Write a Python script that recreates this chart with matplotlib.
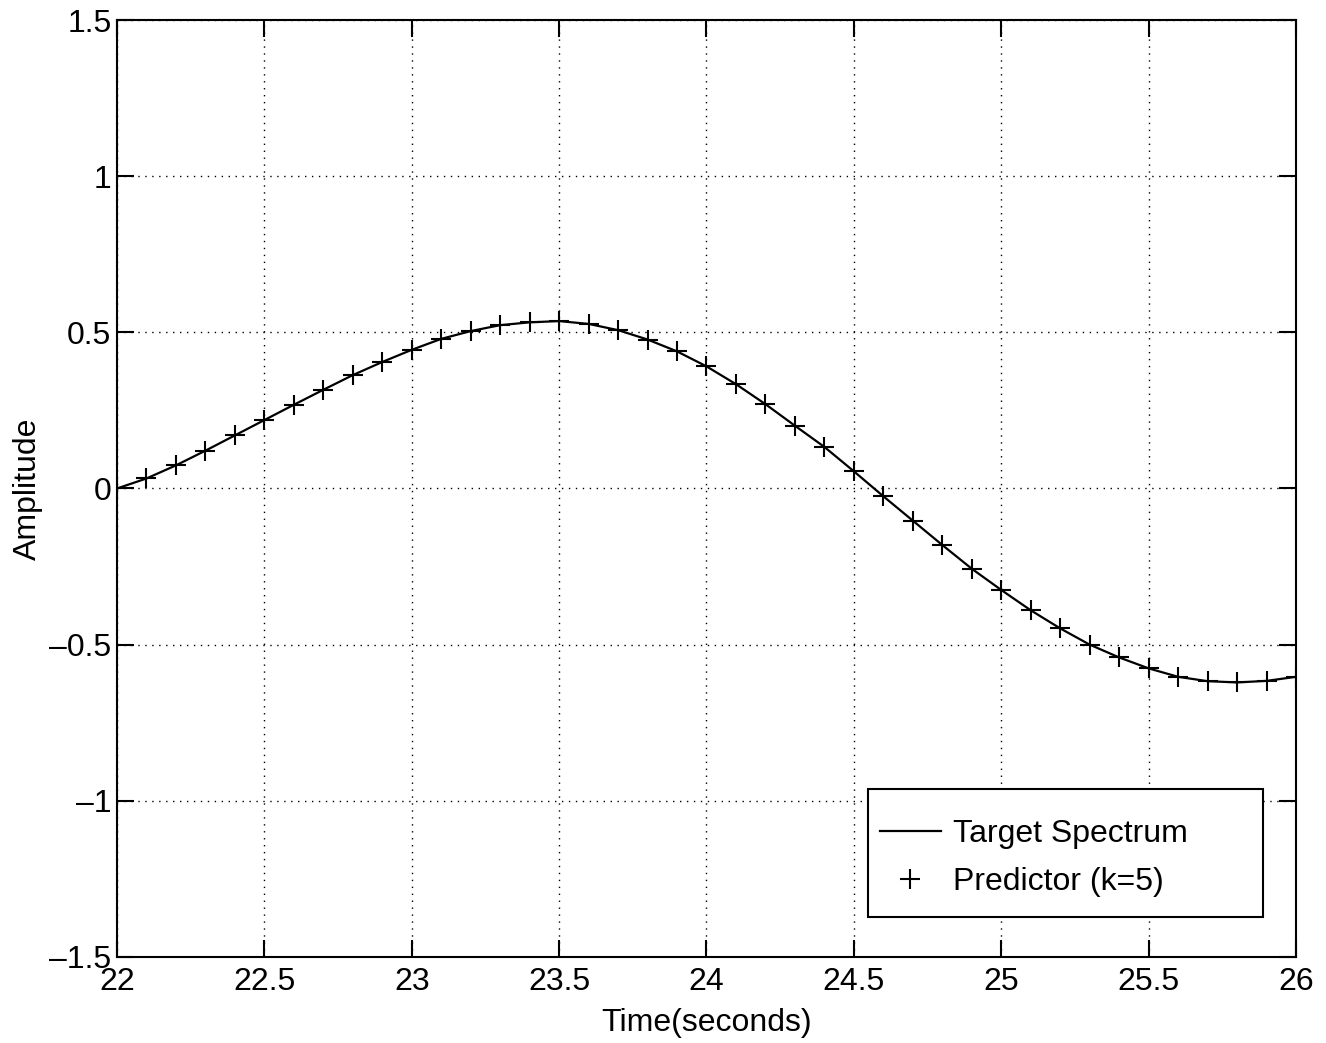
import matplotlib.pyplot as plt
from matplotlib.patches import Rectangle

plt.rcParams['font.family'] = ['Liberation Sans', 'DejaVu Sans']

# time (seconds) and amplitude
t = [22.0, 22.1, 22.2, 22.3, 22.4, 22.5, 22.6, 22.7, 22.8, 22.9,
     23.0, 23.1, 23.2, 23.3, 23.4, 23.5, 23.6, 23.7, 23.8, 23.9,
     24.0, 24.1, 24.2, 24.3, 24.4, 24.5, 24.6, 24.7, 24.8, 24.9,
     25.0, 25.1, 25.2, 25.3, 25.4, 25.5, 25.6, 25.7, 25.8, 25.9, 26.0]
target = [0.0, 0.032, 0.074, 0.121, 0.170, 0.219, 0.268, 0.316, 0.363, 0.405,
          0.444, 0.479, 0.504, 0.523, 0.532, 0.536, 0.527, 0.507, 0.477, 0.439,
          0.391, 0.334, 0.270, 0.201, 0.133, 0.055, -0.025, -0.103, -0.181, -0.257,
          -0.325, -0.390, -0.448, -0.500, -0.541, -0.576, -0.603, -0.617, -0.621, -0.616, -0.603]
predictor = target[:]

xticks = [22, 22.5, 23, 23.5, 24, 24.5, 25, 25.5, 26]
xlabels = ['22', '22.5', '23', '23.5', '24', '24.5', '25', '25.5', '26']
yticks = [-1.5, -1, -0.5, 0, 0.5, 1, 1.5]
ylabels = ['\u20131.5', '\u20131', '\u20130.5', '0', '0.5', '1', '1.5']

fs = 23

fig = plt.figure(figsize=(13.26, 10.43), dpi=100)
ax = fig.add_axes([0.0882, 0.0825, 0.8892, 0.8983])

ax.plot(t, target, '-', color='black', linewidth=1.6, label='Target Spectrum')
ax.plot(t, predictor, '+', color='black', markersize=14, markeredgewidth=1.5,
        label='Predictor (k=5)')

ax.set_xlim(22, 26)
ax.set_ylim(-1.5, 1.5)
ax.set_xticks(xticks)
ax.set_xticklabels(xlabels)
ax.set_yticks(yticks)
ax.set_yticklabels(ylabels)
ax.grid(True, linestyle=(0, (1, 4)), color='black', linewidth=1.0)
ax.tick_params(direction='in', length=12, width=1.5, top=True, right=True,
               labelsize=fs)
ax.tick_params(axis='x', pad=7)
ax.tick_params(axis='y', pad=4)
for s in ax.spines.values():
    s.set_linewidth(1.5)

ax.set_xlabel('Time(seconds)', fontsize=fs)
ax.set_ylabel('Amplitude', fontsize=fs)
ax.xaxis.set_label_coords(0.5, -0.055)
ax.yaxis.set_label_coords(-0.063, 0.5)

# legend box drawn separately (MATLAB style wide frame)
ax.add_patch(Rectangle((0.637, 0.0427), 0.335, 0.137, transform=ax.transAxes,
                       facecolor='white', edgecolor='black', linewidth=1.5, zorder=4))
leg = ax.legend(loc='upper left', bbox_to_anchor=(0.647, 0.147), fontsize=fs,
                frameon=False, handlelength=1.9, handletextpad=0.4, borderpad=0,
                labelspacing=0.55, borderaxespad=0)
leg.set_zorder(5)

fig.savefig('out.png', dpi=100)
